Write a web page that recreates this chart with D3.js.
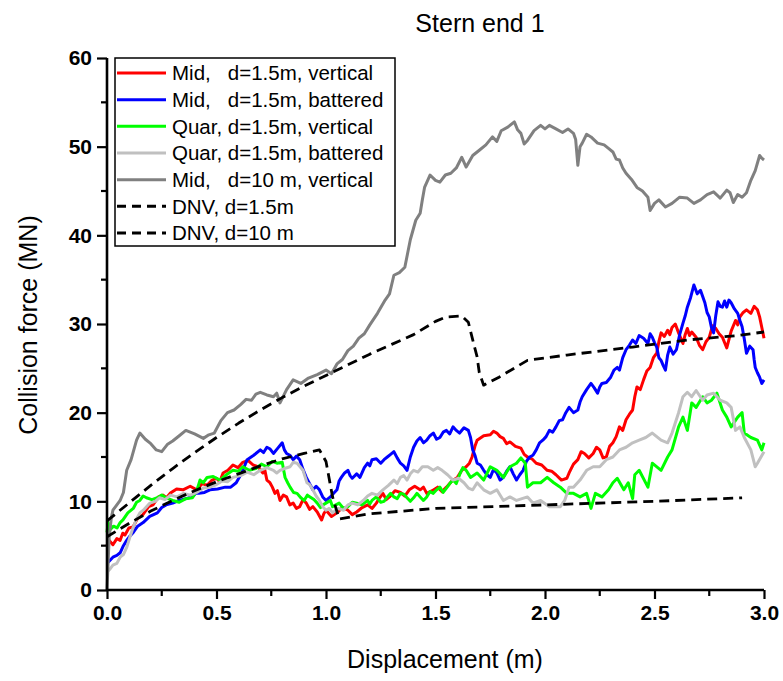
<!DOCTYPE html>
<html>
<head>
<meta charset="utf-8">
<script src="https://cdn.jsdelivr.net/npm/d3@7"></script>
<style>
  html, body { margin: 0; padding: 0; background: #fff; }
  svg { display: block; }
  text { font-family: "Liberation Sans", Arial, sans-serif; fill: #000; }
</style>
</head>
<body>
<svg id="chart" width="783" height="681"></svg>
<script>
// ---------------- data ----------------
const title = "Stern end 1";
const xLabel = "Displacement (m)";
const yLabel = "Collision force (MN)";
const xTicks = [0, 0.5, 1.0, 1.5, 2.0, 2.5, 3.0];
const xMinorTicks = [0.25, 0.75, 1.25, 1.75, 2.25, 2.75];
const yTicks = [0, 10, 20, 30, 40, 50, 60];
const yMinorTicks = [5, 15, 25, 35, 45, 55];

const seriesNames = [
  "Mid,   d=1.5m, vertical",
  "Mid,   d=1.5m, battered",
  "Quar, d=1.5m, vertical",
  "Quar, d=1.5m, battered",
  "Mid,   d=10 m, vertical",
  "DNV, d=1.5m",
  "DNV, d=10 m"
];
const seriesColors = ["#ff0000", "#0000ff", "#00ff00", "#c0c0c0", "#808080", "#000000", "#000000"];
const seriesDashed = [false, false, false, false, false, true, true];

const midVertical15 = [[0,5.0],[0.01,5.6],[0.027,5.1],[0.045,5.8],[0.06,5.6],[0.072,6.4],[0.082,6.2],[0.10,7.0],[0.119,7.1],[0.14,8.1],[0.164,8.5],[0.19,9.4],[0.21,9.6],[0.235,10.5],[0.256,10.7],[0.272,10.4],[0.288,10.9],[0.318,11.4],[0.347,11.3],[0.38,11.7],[0.41,11.3],[0.435,12.0],[0.457,11.8],[0.48,12.4],[0.50,12.6],[0.515,12.2],[0.53,13.2],[0.552,13.5],[0.575,14.1],[0.598,13.8],[0.62,14.4],[0.645,14.6],[0.667,14.1],[0.69,13.9],[0.712,13.2],[0.72,13.6],[0.73,12.4],[0.744,12.1],[0.755,11.6],[0.767,10.9],[0.778,11.2],[0.79,10.1],[0.805,10.7],[0.82,10.5],[0.835,9.6],[0.85,9.8],[0.865,9.2],[0.88,9.4],[0.895,10.2],[0.91,9.8],[0.925,9.1],[0.94,9.4],[0.96,8.8],[0.98,7.9],[0.99,8.6],[1.0,9.0],[1.025,8.3],[1.05,8.7],[1.075,9.3],[1.10,9.0],[1.12,8.5],[1.14,8.8],[1.165,9.3],[1.19,9.6],[1.21,9.2],[1.23,9.8],[1.245,10.4],[1.26,10.9],[1.275,10.2],[1.29,10.5],[1.315,11.2],[1.34,11.0],[1.36,10.6],[1.38,11.3],[1.405,11.7],[1.43,11.3],[1.445,11.6],[1.46,10.9],[1.485,11.2],[1.51,11.6],[1.53,11.1],[1.55,11.6],[1.575,12.3],[1.60,12.7],[1.62,13.5],[1.64,13.9],[1.655,14.3],[1.667,15.0],[1.68,16.2],[1.69,16.9],[1.72,17.4],[1.75,17.5],[1.765,17.9],[1.78,17.7],[1.795,17.3],[1.81,17.1],[1.825,16.5],[1.84,16.7],[1.865,16.2],[1.89,16.0],[1.905,15.3],[1.92,15.0],[1.94,14.8],[1.96,14.3],[1.985,14.1],[2.01,13.5],[2.03,13.4],[2.05,13.0],[2.075,12.4],[2.10,12.6],[2.11,13.2],[2.13,14.2],[2.15,14.7],[2.165,15.6],[2.18,15.4],[2.20,14.9],[2.22,15.4],[2.235,16.1],[2.25,15.8],[2.265,14.9],[2.28,15.0],[2.295,16.2],[2.31,16.6],[2.325,17.3],[2.34,18.4],[2.355,18.0],[2.37,19.2],[2.385,19.8],[2.40,20.3],[2.41,21.8],[2.42,22.9],[2.435,22.6],[2.45,23.7],[2.465,24.7],[2.48,25.1],[2.495,26.2],[2.51,26.7],[2.52,28.0],[2.53,29.0],[2.545,28.6],[2.56,29.3],[2.57,28.8],[2.58,29.6],[2.595,30.0],[2.61,29.0],[2.63,27.8],[2.64,28.8],[2.65,29.5],[2.66,28.7],[2.67,29.1],[2.69,28.5],[2.705,27.6],[2.72,27.1],[2.735,28.0],[2.75,28.5],[2.765,29.8],[2.78,29.5],[2.795,28.9],[2.81,28.5],[2.83,27.3],[2.85,29.2],[2.87,30.4],[2.88,29.9],[2.89,30.8],[2.905,31.3],[2.92,31.6],[2.94,31.2],[2.955,32.0],[2.97,31.6],[2.98,30.8],[2.99,29.6],[3.0,28.4]];

const midBattered15 = [[0,3.0],[0.027,3.7],[0.045,3.9],[0.06,4.2],[0.075,5.0],[0.09,5.6],[0.105,6.1],[0.12,6.5],[0.14,7.2],[0.165,7.6],[0.195,8.3],[0.23,8.7],[0.25,9.3],[0.27,9.6],[0.30,9.8],[0.33,10.1],[0.36,10.3],[0.39,10.5],[0.405,10.9],[0.42,10.9],[0.445,11.0],[0.47,11.3],[0.505,11.4],[0.54,11.6],[0.565,11.6],[0.59,12.1],[0.615,13.2],[0.64,14.7],[0.67,15.2],[0.70,15.8],[0.715,15.5],[0.73,16.1],[0.745,15.9],[0.76,15.4],[0.78,16.0],[0.80,16.6],[0.81,15.8],[0.82,15.4],[0.835,15.2],[0.85,14.7],[0.865,15.1],[0.88,14.7],[0.895,13.6],[0.91,12.7],[0.925,12.0],[0.94,11.3],[0.955,11.7],[0.97,11.3],[0.985,10.5],[1.0,10.1],[1.02,10.5],[1.035,10.9],[1.05,11.3],[1.06,12.3],[1.07,12.7],[1.085,13.2],[1.10,13.5],[1.11,12.9],[1.12,12.6],[1.14,13.1],[1.155,12.7],[1.175,13.8],[1.19,14.3],[1.20,14.0],[1.21,14.7],[1.23,14.8],[1.25,14.3],[1.265,14.7],[1.28,15.0],[1.295,15.3],[1.31,15.6],[1.325,14.9],[1.34,14.3],[1.355,14.0],[1.37,13.5],[1.385,15.0],[1.40,16.1],[1.415,16.8],[1.43,17.2],[1.445,16.6],[1.46,16.9],[1.475,17.4],[1.49,17.7],[1.505,17.0],[1.52,17.2],[1.535,17.8],[1.55,18.0],[1.565,17.6],[1.58,18.4],[1.595,18.0],[1.61,17.7],[1.63,18.3],[1.65,18.0],[1.66,17.2],[1.67,15.8],[1.68,15.2],[1.69,14.3],[1.705,14.1],[1.72,13.5],[1.735,13.0],[1.75,12.7],[1.765,13.6],[1.78,13.2],[1.795,12.4],[1.81,12.7],[1.825,13.4],[1.84,13.9],[1.855,13.1],[1.87,12.4],[1.885,13.0],[1.90,13.5],[1.915,14.5],[1.93,15.0],[1.945,15.2],[1.96,15.8],[1.975,16.6],[1.99,16.9],[2.005,17.3],[2.02,18.0],[2.035,17.8],[2.05,18.4],[2.065,19.1],[2.08,19.2],[2.095,20.0],[2.11,20.6],[2.13,20.0],[2.15,20.3],[2.16,21.2],[2.17,21.8],[2.19,22.6],[2.21,23.3],[2.225,22.8],[2.24,22.2],[2.25,22.9],[2.26,23.3],[2.28,23.4],[2.30,24.0],[2.315,24.8],[2.33,25.1],[2.34,24.8],[2.355,26.2],[2.37,27.1],[2.385,27.6],[2.40,28.2],[2.415,27.8],[2.43,28.7],[2.45,28.4],[2.47,27.8],[2.48,28.9],[2.49,28.5],[2.50,27.9],[2.51,27.4],[2.52,26.2],[2.53,25.9],[2.54,25.3],[2.55,24.8],[2.56,26.5],[2.57,27.4],[2.585,26.6],[2.60,27.1],[2.615,28.8],[2.63,30.1],[2.64,30.9],[2.65,31.9],[2.665,33.0],[2.68,34.4],[2.695,33.4],[2.71,33.8],[2.72,33.1],[2.73,32.4],[2.74,31.3],[2.75,30.8],[2.76,29.6],[2.77,29.0],[2.78,31.0],[2.79,32.5],[2.80,32.0],[2.81,31.9],[2.82,32.6],[2.83,31.9],[2.84,32.7],[2.85,32.4],[2.865,31.7],[2.88,31.2],[2.89,30.4],[2.90,29.7],[2.91,28.3],[2.92,26.7],[2.935,27.5],[2.95,27.1],[2.955,26.0],[2.96,25.1],[2.97,24.5],[2.98,24.0],[2.99,23.3],[3.0,23.7]];

const quarVertical15 = [[0,6.5],[0.005,7.6],[0.014,6.8],[0.03,7.2],[0.046,7.0],[0.06,7.6],[0.073,7.9],[0.095,8.7],[0.12,9.2],[0.135,9.9],[0.15,10.1],[0.165,10.6],[0.18,10.4],[0.205,10.2],[0.23,10.4],[0.25,10.7],[0.27,10.4],[0.30,10.1],[0.33,9.9],[0.36,10.3],[0.39,10.4],[0.41,11.2],[0.425,12.4],[0.44,12.1],[0.457,12.7],[0.485,12.8],[0.516,12.4],[0.545,13.0],[0.575,13.5],[0.60,13.4],[0.62,13.9],[0.65,13.5],[0.68,13.7],[0.705,14.2],[0.73,13.9],[0.755,14.5],[0.776,14.3],[0.80,14.4],[0.813,12.7],[0.825,12.1],[0.836,11.6],[0.852,11.0],[0.868,10.9],[0.885,10.4],[0.90,10.1],[0.915,10.7],[0.927,10.5],[0.945,10.2],[0.96,9.8],[0.975,9.3],[0.986,9.6],[1.0,9.8],[1.02,10.1],[1.03,9.4],[1.045,9.6],[1.06,9.8],[1.08,9.2],[1.10,9.4],[1.12,9.9],[1.14,9.8],[1.165,9.6],[1.19,10.1],[1.20,9.7],[1.21,10.1],[1.23,10.5],[1.25,9.9],[1.265,10.0],[1.28,10.5],[1.295,10.9],[1.31,10.5],[1.325,10.3],[1.34,10.9],[1.355,10.8],[1.37,10.4],[1.385,10.0],[1.40,10.4],[1.415,10.9],[1.43,10.5],[1.445,10.1],[1.46,10.5],[1.475,11.1],[1.49,10.9],[1.505,11.3],[1.52,11.6],[1.535,11.0],[1.55,11.5],[1.565,12.0],[1.58,12.4],[1.595,12.0],[1.61,13.0],[1.625,13.8],[1.64,13.5],[1.65,13.1],[1.66,12.7],[1.69,13.2],[1.72,12.4],[1.75,13.9],[1.78,13.5],[1.81,12.7],[1.84,13.9],[1.87,14.3],[1.89,14.9],[1.91,14.3],[1.92,11.6],[1.945,12.1],[1.98,12.1],[2.01,12.7],[2.04,12.1],[2.07,11.6],[2.10,10.9],[2.13,10.9],[2.16,10.5],[2.19,10.9],[2.21,9.2],[2.23,10.9],[2.26,10.5],[2.29,11.3],[2.31,12.1],[2.33,12.6],[2.36,11.3],[2.38,12.1],[2.40,10.3],[2.41,13.0],[2.43,13.5],[2.47,11.6],[2.49,14.3],[2.53,13.5],[2.56,15.0],[2.58,15.8],[2.61,18.4],[2.63,19.5],[2.65,18.0],[2.67,21.1],[2.69,20.6],[2.72,21.8],[2.74,21.1],[2.76,21.4],[2.785,22.2],[2.81,20.3],[2.83,19.5],[2.85,18.4],[2.88,19.5],[2.90,20.0],[2.91,17.7],[2.94,17.2],[2.97,16.9],[2.99,15.8],[3.0,16.6]];

const quarBattered15 = [[0,2.0],[0.015,2.4],[0.027,2.8],[0.045,3.0],[0.06,3.7],[0.075,4.0],[0.09,4.8],[0.105,6.0],[0.12,7.1],[0.135,8.0],[0.15,8.7],[0.17,9.1],[0.196,9.8],[0.22,10.0],[0.24,10.4],[0.265,10.2],[0.29,10.7],[0.32,10.5],[0.35,10.9],[0.38,10.7],[0.41,11.0],[0.44,11.5],[0.47,11.6],[0.50,11.9],[0.525,12.3],[0.55,12.2],[0.575,12.7],[0.61,12.9],[0.64,13.3],[0.67,13.0],[0.70,13.5],[0.73,13.8],[0.76,13.5],[0.775,13.2],[0.79,13.5],[0.81,13.7],[0.836,13.9],[0.85,14.4],[0.868,14.3],[0.895,13.5],[0.913,12.1],[0.925,11.9],[0.94,11.3],[0.955,10.6],[0.97,10.1],[0.985,9.4],[1.0,9.0],[1.015,9.2],[1.03,8.7],[1.055,9.2],[1.08,9.0],[1.10,9.6],[1.12,9.8],[1.145,9.6],[1.17,10.1],[1.19,10.6],[1.21,10.9],[1.235,10.7],[1.26,11.3],[1.285,11.8],[1.31,12.4],[1.325,12.0],[1.34,12.7],[1.355,12.9],[1.37,12.4],[1.385,13.1],[1.40,13.5],[1.42,13.3],[1.44,13.9],[1.465,13.9],[1.49,13.5],[1.51,13.8],[1.53,13.5],[1.555,13.0],[1.58,12.4],[1.605,12.6],[1.63,12.1],[1.65,11.5],[1.67,11.3],[1.69,12.1],[1.72,11.3],[1.75,10.9],[1.78,11.3],[1.81,10.1],[1.84,10.5],[1.87,10.1],[1.92,10.5],[1.945,9.8],[1.98,10.1],[2.02,9.4],[2.07,9.4],[2.09,10.1],[2.11,11.6],[2.13,11.6],[2.16,12.4],[2.19,13.5],[2.22,13.9],[2.25,13.9],[2.28,14.7],[2.31,15.0],[2.34,15.8],[2.37,16.1],[2.40,16.6],[2.43,16.9],[2.46,17.2],[2.49,17.7],[2.53,16.9],[2.56,16.6],[2.58,17.7],[2.61,20.0],[2.63,21.8],[2.65,22.3],[2.67,21.8],[2.69,22.5],[2.72,21.4],[2.74,22.0],[2.77,22.2],[2.80,21.4],[2.83,21.1],[2.85,20.6],[2.87,18.0],[2.89,18.4],[2.91,17.2],[2.94,15.8],[2.96,13.9],[2.97,14.3],[3.0,15.6]];

const midVertical10 = [[0,0],[0.01,6.0],[0.02,8.2],[0.027,9.0],[0.045,9.6],[0.06,10.1],[0.075,11.0],[0.09,13.5],[0.11,14.7],[0.135,16.9],[0.15,17.7],[0.175,17.0],[0.2,16.5],[0.225,15.8],[0.25,15.6],[0.275,16.4],[0.3,16.8],[0.33,17.4],[0.36,18.0],[0.40,17.6],[0.44,17.1],[0.465,17.5],[0.49,17.7],[0.52,19.1],[0.55,20.0],[0.58,20.3],[0.61,20.9],[0.635,21.5],[0.66,21.4],[0.68,22.1],[0.70,22.3],[0.73,22.0],[0.76,21.8],[0.775,22.2],[0.79,21.1],[0.82,22.6],[0.85,23.7],[0.885,23.3],[0.92,23.9],[0.96,24.3],[1.0,24.8],[1.025,24.4],[1.05,25.5],[1.075,26.0],[1.1,27.0],[1.125,27.5],[1.15,28.4],[1.175,28.9],[1.2,29.9],[1.235,31.2],[1.27,32.7],[1.29,33.4],[1.31,35.5],[1.335,35.8],[1.36,36.4],[1.385,39.5],[1.41,41.7],[1.43,42.5],[1.44,44.0],[1.45,45.4],[1.475,46.8],[1.50,46.2],[1.52,46.0],[1.545,46.8],[1.57,47.0],[1.595,47.6],[1.62,48.8],[1.64,47.7],[1.67,49.0],[1.70,49.6],[1.73,50.2],[1.76,51.1],[1.78,50.6],[1.80,51.8],[1.83,52.2],[1.86,52.8],[1.875,51.9],[1.89,51.5],[1.905,50.3],[1.92,50.7],[1.95,51.8],[1.98,52.4],[2.0,52.0],[2.02,52.4],[2.05,52.0],[2.08,51.6],[2.105,52.0],[2.13,51.5],[2.14,50.8],[2.15,47.9],[2.16,50.0],[2.17,50.4],[2.19,51.4],[2.21,51.1],[2.24,50.4],[2.27,50.2],[2.29,49.8],[2.31,49.4],[2.325,48.6],[2.34,48.5],[2.355,47.6],[2.37,47.0],[2.395,46.3],[2.42,45.4],[2.445,45.0],[2.47,44.3],[2.48,42.8],[2.50,43.6],[2.52,44.0],[2.55,43.2],[2.58,43.6],[2.615,44.3],[2.65,44.2],[2.68,43.6],[2.71,44.0],[2.74,44.6],[2.77,44.9],[2.80,44.2],[2.83,45.1],[2.845,44.8],[2.86,43.7],[2.88,44.6],[2.90,44.3],[2.92,44.8],[2.94,46.2],[2.96,47.3],[2.98,49.0],[2.99,48.7],[3.0,48.5]];

const dnv15 = [[0,6.0],[0.1,7.5],[0.2,8.9],[0.3,10.1],[0.4,11.2],[0.5,12.2],[0.6,13.1],[0.7,14.0],[0.8,14.8],[0.9,15.4],[0.97,15.8],[1.0,14.5],[1.03,10.5],[1.06,8.0],[1.2,8.6],[1.5,9.2],[2.0,9.6],[2.5,10.0],[2.9,10.4]];

const dnv10 = [[0,7.8],[0.1,9.8],[0.2,11.8],[0.3,13.7],[0.4,15.5],[0.5,17.2],[0.6,18.8],[0.7,20.3],[0.8,21.7],[0.9,23.0],[1.0,24.2],[1.1,25.4],[1.2,26.6],[1.3,27.7],[1.4,28.8],[1.5,30.3],[1.55,30.8],[1.62,30.9],[1.65,30.2],[1.67,28.2],[1.69,26.3],[1.70,24.5],[1.72,23.1],[1.79,24.0],[1.92,25.9],[2.1,26.5],[2.4,27.4],[2.65,28.2],[2.88,28.7],[3.0,29.1]];

const seriesData = [midVertical15, midBattered15, quarVertical15, quarBattered15, midVertical10, dnv15, dnv10];

// ---------------- chart ----------------
const svg = d3.select("#chart");
const x = d3.scaleLinear().domain([0, 3]).range([107, 764]);
const y = d3.scaleLinear().domain([0, 60]).range([590, 58]);

const line = d3.line().x(d => x(d[0])).y(d => y(d[1]));

seriesData.forEach((data, i) => {
  svg.append("path")
    .datum(data)
    .attr("fill", "none")
    .attr("stroke", seriesColors[i])
    .attr("stroke-width", seriesDashed[i] ? 2.8 : 3)
    .attr("stroke-linejoin", "round")
    .attr("stroke-dasharray", seriesDashed[i] ? "10,6" : null)
    .attr("d", line);
});

// axes
const xAxis = d3.axisBottom(x).tickValues(xTicks).tickSize(9).tickPadding(6)
  .tickFormat(d3.format(".1f"));
const gx = svg.append("g").attr("transform", "translate(0,590)").call(xAxis);
gx.selectAll(".minor").data(xMinorTicks).enter().append("line")
  .attr("x1", d => x(d)).attr("x2", d => x(d)).attr("y1", 0).attr("y2", 6)
  .attr("stroke", "#000").attr("stroke-width", 2.2);

const yAxis = d3.axisLeft(y).tickValues(yTicks).tickSize(10).tickPadding(5)
  .tickFormat(d3.format("d"));
const gy = svg.append("g").attr("transform", "translate(107,0)").call(yAxis);
gy.selectAll(".minor").data(yMinorTicks).enter().append("line")
  .attr("y1", d => y(d)).attr("y2", d => y(d)).attr("x1", 0).attr("x2", -6)
  .attr("stroke", "#000").attr("stroke-width", 2.2);

[gx, gy].forEach(g => {
  g.select(".domain").attr("stroke-width", 2.6).attr("stroke", "#000");
  g.selectAll(".tick line").attr("stroke-width", 2.2).attr("stroke", "#000");
  g.selectAll(".tick text")
    .style("font-family", '"Liberation Sans", Arial, sans-serif')
    .style("font-size", "21px").style("font-weight", "bold").attr("fill", "#000");
});
gx.select(".domain").attr("d", `M${x(0)},0H${x(3)}`);
gy.select(".domain").attr("d", `M0,${y(0)}V${y(60)}`);

// titles
svg.append("text").attr("x", 480).attr("y", 32).attr("text-anchor", "middle")
  .style("font-size", "25px").text(title);
svg.append("text").attr("x", 445).attr("y", 668).attr("text-anchor", "middle")
  .style("font-size", "25px").text(xLabel);
svg.append("text").attr("transform", "translate(37,325) rotate(-90)")
  .attr("text-anchor", "middle").style("font-size", "25px").text(yLabel);

// legend
const lg = svg.append("g");
lg.append("rect").attr("x", 115).attr("y", 58).attr("width", 280).attr("height", 188)
  .attr("fill", "#fff").attr("stroke", "#000").attr("stroke-width", 1.5);
seriesNames.forEach((name, i) => {
  const yy = 73 + i * 26.67;
  lg.append("line").attr("x1", 117).attr("x2", 166).attr("y1", yy).attr("y2", yy)
    .attr("stroke", seriesColors[i]).attr("stroke-width", 3)
    .attr("stroke-dasharray", seriesDashed[i] ? "9,6" : null);
  lg.append("text").attr("x", 172).attr("y", yy).attr("dy", "0.36em")
    .style("font-size", "20.5px").style("white-space", "pre")
    .attr("xml:space", "preserve").text(name);
});
</script>
</body>
</html>
